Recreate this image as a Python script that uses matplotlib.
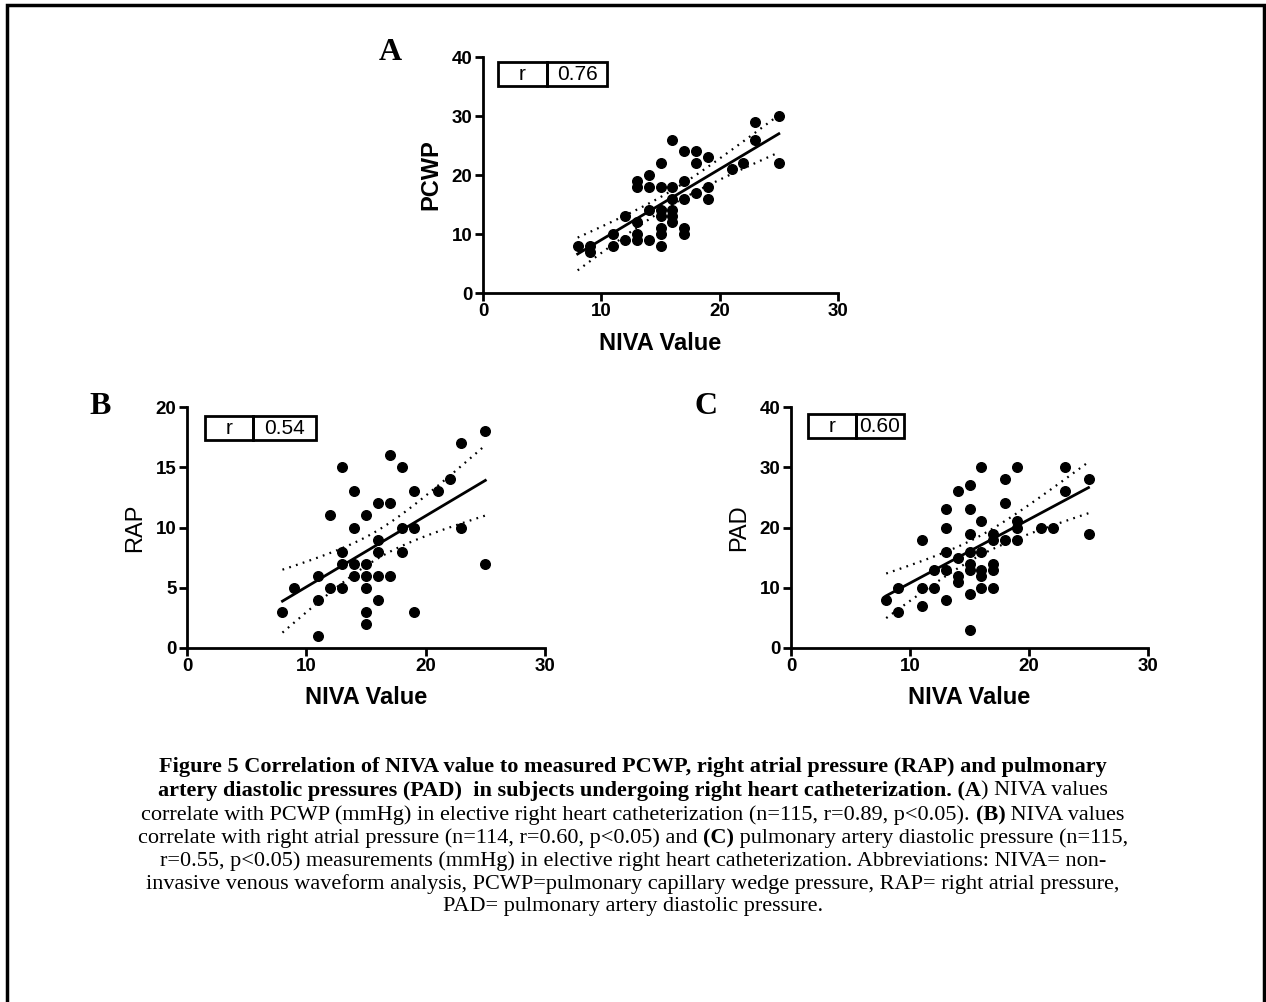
import numpy as np
import matplotlib.pyplot as plt
from matplotlib.patches import Rectangle

# panel A: NIVA value vs PCWP
a_x = [8, 9, 9, 11, 11, 12, 12, 13, 13, 13, 13, 13, 14, 14, 14, 14,
       15, 15, 15, 15, 15, 15, 15, 16, 16, 16, 16, 16, 16,
       17, 17, 17, 17, 17, 18, 18, 18, 19, 19, 19, 21, 22, 23, 23, 25, 25]
a_y = [8, 8, 7, 10, 8, 13, 9, 19, 18, 12, 10, 9, 20, 18, 14, 9,
       22, 18, 14, 13, 11, 10, 8, 26, 18, 16, 14, 13, 12,
       24, 19, 16, 11, 10, 24, 22, 17, 23, 18, 16, 21, 22, 29, 26, 30, 22]

# panel B: NIVA value vs RAP
b_x = [8, 9, 11, 11, 11, 12, 12, 13, 13, 13, 13, 14, 14, 14, 14,
       15, 15, 15, 15, 15, 15, 16, 16, 16, 16, 16, 17, 17, 17,
       18, 18, 18, 19, 19, 19, 21, 22, 23, 23, 25, 25]
b_y = [3, 5, 6, 4, 1, 11, 5, 15, 8, 7, 5, 13, 10, 7, 6,
       11, 7, 6, 5, 3, 2, 12, 9, 8, 6, 4, 16, 12, 6,
       15, 10, 8, 13, 10, 3, 13, 14, 17, 10, 18, 7]

# panel C: NIVA value vs PAD
c_x = [8, 9, 9, 11, 11, 11, 12, 12, 13, 13, 13, 13, 13, 14, 14, 14, 14,
       15, 15, 15, 15, 15, 15, 15, 15, 16, 16, 16, 16, 16, 16,
       17, 17, 17, 17, 17, 18, 18, 18, 19, 19, 19, 19, 21, 22, 23, 23, 25, 25]
c_y = [8, 6, 10, 18, 10, 7, 13, 10, 23, 20, 16, 13, 8, 26, 15, 12, 11,
       27, 23, 19, 16, 14, 13, 9, 3, 30, 21, 16, 13, 12, 10,
       19, 18, 14, 13, 10, 28, 24, 18, 30, 21, 20, 18, 20, 20, 30, 26, 28, 19]

panels = [
    ("A", a_x, a_y, "PCWP", 40, [0, 10, 20, 30, 40], "0.76"),
    ("B", b_x, b_y, "RAP", 20, [0, 5, 10, 15, 20], "0.54"),
    ("C", c_x, c_y, "PAD", 40, [0, 10, 20, 30, 40], "0.60"),
]

caption = [
    [("Figure 5 Correlation of NIVA value to measured PCWP, right atrial pressure (RAP) and pulmonary", "bold")],
    [("artery diastolic pressures (PAD)  in subjects undergoing right heart catheterization. (A", "bold"),
     (") NIVA values", "normal")],
    [("correlate with PCWP (mmHg) in elective right heart catheterization (n=115, r=0.89, p<0.05). ", "normal"),
     ("(B)", "bold"), (" NIVA values", "normal")],
    [("correlate with right atrial pressure (n=114, r=0.60, p<0.05) and ", "normal"),
     ("(C)", "bold"), (" pulmonary artery diastolic pressure (n=115,", "normal")],
    [("r=0.55, p<0.05) measurements (mmHg) in elective right heart catheterization. Abbreviations: NIVA= non-", "normal")],
    [("invasive venous waveform analysis, PCWP=pulmonary capillary wedge pressure, RAP= right atrial pressure,", "normal")],
    [("PAD= pulmonary artery diastolic pressure.", "normal")],
]

W, H = 1266, 1002
fig = plt.figure(figsize=(W / 100, H / 100), dpi=100)
plt.rcParams['font.family'] = ['Liberation Sans', 'DejaVu Sans']


def frac(x0, y0, x1, y1):
    # pixel box (top-left origin) -> figure fraction rect
    return [x0 / W, 1 - y1 / H, (x1 - x0) / W, (y1 - y0) / H]


def fit_band(x, y):
    x = np.asarray(x, float)
    y = np.asarray(y, float)
    n = len(x)
    b, a = np.polyfit(x, y, 1)
    xs = np.linspace(x.min(), x.max(), 100)
    yh = a + b * xs
    s = np.sqrt(np.sum((y - (a + b * x)) ** 2) / (n - 2))
    sxx = np.sum((x - x.mean()) ** 2)
    se = s * np.sqrt(1 / n + (xs - x.mean()) ** 2 / sxx)
    return xs, yh, yh - 2.01 * se, yh + 2.01 * se


boxes = {"A": (483, 57, 838, 293), "B": (187, 407, 545, 648), "C": (791, 407, 1148, 648)}
letters = {"A": (390, 53), "B": (100, 407), "C": (706, 407)}
rboxes = {"A": (498, 62, 547, 607, 86), "B": (205, 416, 253, 316, 440), "C": (808, 414, 856, 904, 438)}

for name, x, y, ylab, ymax, yt, rval in panels:
    ax = fig.add_axes(frac(*boxes[name]))
    ax.scatter(x, y, s=48, color='black', zorder=3, clip_on=False)
    xs, yh, lo, hi = fit_band(x, y)
    ax.plot(xs, yh, color='black', lw=2)
    ax.plot(xs, lo, color='black', lw=1.6, ls=(0, (0.8, 2.4)))
    ax.plot(xs, hi, color='black', lw=1.6, ls=(0, (0.8, 2.4)))
    ax.set_xlim(0, 30)
    ax.set_ylim(0, ymax)
    ax.set_xticks([0, 10, 20, 30])
    ax.set_yticks(yt)
    for sp in ['top', 'right']:
        ax.spines[sp].set_visible(False)
    for sp in ['left', 'bottom']:
        ax.spines[sp].set_linewidth(2)
    ax.tick_params(direction='out', length=6, width=2, labelsize=13.5, pad=1.5)
    for lab in ax.get_xticklabels() + ax.get_yticklabels():
        lab.set_fontweight('bold')
    ax.set_xlabel("NIVA Value", fontsize=17, fontweight='bold', va='center')
    ax.set_ylabel(ylab, fontsize=17, fontweight='bold' if name == "A" else 'normal', va='center')
    x0, y0, x1, y1 = boxes[name]
    ax.xaxis.set_label_coords(0.5, -50 / (y1 - y0))
    ax.yaxis.set_label_coords(-52 / (x1 - x0), 0.5)

    lx, ly = letters[name]
    fig.text(lx / W, 1 - ly / H, name, family='Liberation Serif', fontsize=23,
             fontweight='bold', ha='center', va='center')

    bx0, by0, bxm, bx1, by1 = rboxes[name]
    fig.add_artist(Rectangle((bx0 / W, 1 - by1 / H), (bxm - bx0) / W, (by1 - by0) / H,
                             transform=fig.transFigure, fill=False, lw=2, ec='black'))
    fig.add_artist(Rectangle((bxm / W, 1 - by1 / H), (bx1 - bxm) / W, (by1 - by0) / H,
                             transform=fig.transFigure, fill=False, lw=2, ec='black'))
    fig.text((bx0 + bxm) / 2 / W, 1 - (by0 + by1) / 2 / H, "r", fontsize=15, ha='center', va='center')
    fig.text((bxm + bx1) / 2 / W, 1 - (by0 + by1) / 2 / H, rval, fontsize=15, ha='center', va='center')

# outer frame
fig.add_artist(Rectangle((7 / W, -0.01), (1264 - 7) / W, 1 - 5 / H + 0.01,
                         transform=fig.transFigure, fill=False, lw=2.5, ec='black'))

# caption with mixed weights, centred line by line
renderer = fig.canvas.get_renderer()
cap_kw = dict(family='Liberation Serif', fontsize=16, va='center')


def seg_width(s, w):
    t1 = fig.text(0, 0, "|" + s + "|", fontweight=w, **cap_kw)
    t2 = fig.text(0, 0, "||", fontweight=w, **cap_kw)
    wd = t1.get_window_extent(renderer).width - t2.get_window_extent(renderer).width
    t1.remove()
    t2.remove()
    return wd


line_y = [767, 791, 815, 838, 861, 884, 907]
for segs, ly in zip(caption, line_y):
    widths = [seg_width(s, w) for s, w in segs]
    xp = W / 2 - sum(widths) / 2
    for (s, w), wd in zip(segs, widths):
        fig.text(xp / W, 1 - ly / H, s, fontweight=w, ha='left', **cap_kw)
        xp += wd

fig.savefig('out.png', dpi=100)
